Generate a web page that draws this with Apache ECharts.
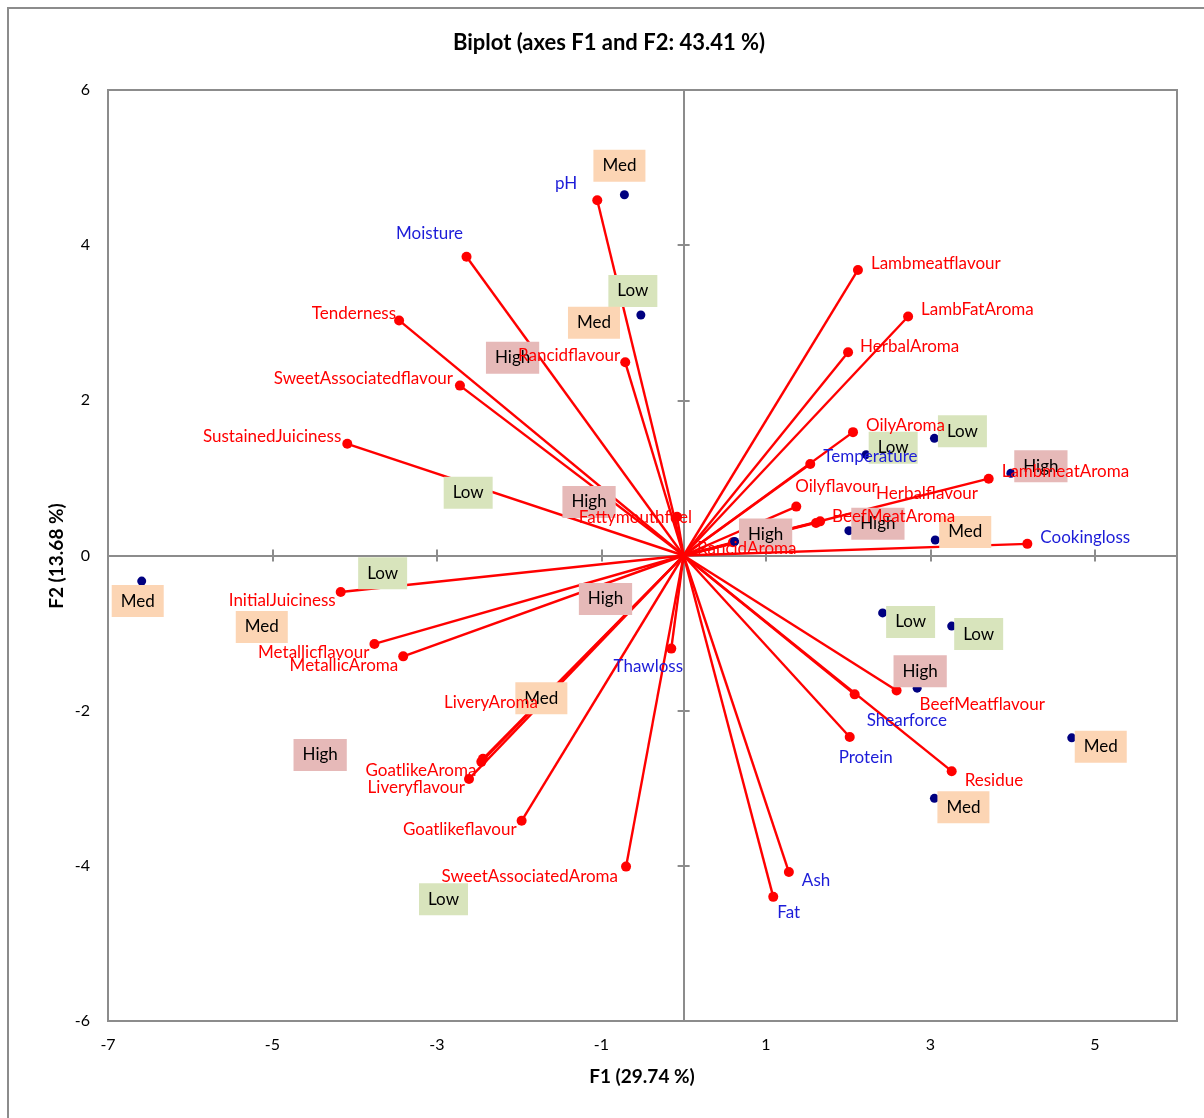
<!DOCTYPE html>
<html>
<head>
<meta charset="utf-8">
<title>Biplot (axes F1 and F2: 43.41 %)</title>
<script src="https://cdn.jsdelivr.net/npm/echarts@6/dist/echarts.min.js"></script>
<style>
  html, body { margin: 0; padding: 0; background: #ffffff; }
  #chart { width: 1204px; height: 1118px; }
</style>
</head>
<body>
<div id="chart"></div>
<script>
// ---- Variables: coordinates on F1 / F2 ----
const varNames = [
  'pH', 'Moisture', 'Tenderness', 'SweetAssociatedflavour', 'SustainedJuiciness',
  'Rancidflavour', 'Fattymouthfeel', 'Lambmeatflavour', 'LambFatAroma', 'HerbalAroma',
  'OilyAroma', 'Temperature', 'Oilyflavour', 'Herbalflavour', 'BeefMeatAroma',
  'LambmeatAroma', 'Cookingloss', 'RancidAroma', 'InitialJuiciness', 'Metallicflavour',
  'MetallicAroma', 'Thawloss', 'LiveryAroma', 'GoatlikeAroma', 'Liveryflavour',
  'Goatlikeflavour', 'SweetAssociatedAroma', 'Ash', 'Fat', 'Protein',
  'Shearforce', 'BeefMeatflavour', 'Residue'
];
const varF1 = [
  -1.05, -2.64, -3.46, -2.72, -4.09,
  -0.71, -0.08, 2.12, 2.73, 2.00,
  2.06, 1.54, 1.37, 1.61, 1.66,
  3.71, 4.18, 0.60, -4.17, -3.76,
  -3.41, -0.15, -2.44, -2.46, -2.61,
  -1.97, -0.70, 1.28, 1.09, 2.02,
  2.08, 2.59, 3.26
];
const varF2 = [
  4.58, 3.85, 3.03, 2.19, 1.44,
  2.49, 0.50, 3.68, 3.08, 2.62,
  1.59, 1.18, 0.63, 0.42, 0.44,
  0.99, 0.15, 0.17, -0.47, -1.14,
  -1.30, -1.20, -2.62, -2.66, -2.88,
  -3.42, -4.01, -4.08, -4.40, -2.34,
  -1.79, -1.74, -2.78
];
// Physico-chemical measurements (labelled in blue)
const supplementaryVars = ['pH', 'Moisture', 'Temperature', 'Cookingloss', 'Thawloss',
  'Shearforce', 'Protein', 'Ash', 'Fat'];

// ---- Observations: scores on F1 / F2 and level ----
const obsLevel = [
  'Med', 'Low', 'Med', 'Low', 'Low', 'High', 'High', 'Med',
  'High', 'Low', 'Low', 'High', 'Med', 'Med', 'Med', 'High',
  'Low', 'High', 'Low', 'High', 'Med', 'Med', 'High', 'Low'
];
const obsF1 = [
  -0.72, -0.52, -6.59, 2.22, 3.05, 3.98, 2.01, 3.06,
  0.62, 2.42, 3.26, 2.84, 4.72, 3.05, -1.09, -2.08,
  -2.62, -1.15, -3.66, -0.95, -5.13, -1.73, -4.42, -2.92
];
const obsF2 = [
  4.65, 3.10, -0.33, 1.30, 1.51, 1.06, 0.32, 0.20,
  0.18, -0.74, -0.91, -1.71, -2.35, -3.13, 3.00, 2.55,
  0.81, 0.69, -0.23, -0.56, -0.92, -1.84, -2.57, -4.43
];

// ---- Axis ticks ----
const xTickLabels = [-7, -5, -3, -1, 1, 3, 5];
const yTickLabels = [-6, -4, -2, 0, 2, 4, 6];
const xZeroTicks = [-5, -3, -1, 1, 3, 5];
const yZeroTicks = [-4, -2, 2, 4];

// ---- Label layout (alignment and pixel offset from the point) ----
const varLabelLayout = {
  pH: ['right', -20, -17], Moisture: ['center', -37, -23], Tenderness: ['right', -3, -7],
  SweetAssociatedflavour: ['right', -7, -7], SustainedJuiciness: ['right', -6, -7],
  Rancidflavour: ['right', -5, -7], Fattymouthfeel: ['right', 15, 1],
  Lambmeatflavour: ['left', 13, -6], LambFatAroma: ['left', 13, -7], HerbalAroma: ['left', 12, -6],
  OilyAroma: ['left', 13, -7], Temperature: ['left', 13, -7], Oilyflavour: ['left', -1, -20],
  Herbalflavour: ['left', 60, -29], BeefMeatAroma: ['left', 12, -5], LambmeatAroma: ['left', 13, -7],
  Cookingloss: ['left', 13, -6], RancidAroma: ['left', -36, 6], InitialJuiciness: ['right', -5, 9],
  Metallicflavour: ['right', -5, 9], MetallicAroma: ['right', -5, 9], Thawloss: ['center', -23, 18],
  LiveryAroma: ['center', 8, -56], GoatlikeAroma: ['right', -5, 9], Liveryflavour: ['right', -4, 9],
  Goatlikeflavour: ['right', -5, 9], SweetAssociatedAroma: ['right', -8, 10], Ash: ['left', 13, 8],
  Fat: ['left', 4, 16], Protein: ['center', 16, 20], Shearforce: ['left', 12, 26],
  BeefMeatflavour: ['left', 23, 14], Residue: ['left', 13, 9]
};
const obsLabelOffset = [
  [-5, -29], [-8, -24], [-4, 20], [27, -7], [28, -7], [30, -7], [29, -7], [30, -8],
  [31, -7], [28, 9], [27, 8], [3, -17], [29, 9], [29, 9], [0, 0], [0, 0],
  [0, 0], [0, 0], [0, 0], [0, 0], [0, 0], [0, 0], [0, 0], [0, 0]
];

const FONT = 'Lato, "Open Sans", sans-serif';
const RED = '#ff0000';
const BLUE = '#1c1cd8';
const NAVY = '#000080';
const GREY = '#8c8c8c';
const levelColor = { Low: '#d8e4bc', Med: '#fcd5b4', High: '#e6b9b8' };

const vectorData = varNames.map((n, i) => ({ coords: [[0, 0], [varF1[i], varF2[i]]] }));
const varPointData = varNames.map((n, i) => [varF1[i], varF2[i]]);
const varLabelData = varNames.map((n, i) => {
  const lay = varLabelLayout[n];
  return {
    name: n,
    value: [varF1[i], varF2[i]],
    label: {
      align: lay[0],
      offset: [lay[1], lay[2]],
      color: supplementaryVars.includes(n) ? BLUE : RED
    }
  };
});
const obsPointData = obsF1.map((x, i) => [x, obsF2[i]]);
const obsLabelData = obsF1.map((x, i) => ({
  name: obsLevel[i],
  value: [x, obsF2[i]],
  label: { backgroundColor: levelColor[obsLevel[i]], offset: obsLabelOffset[i] }
}));

const zeroLine = { color: GREY, width: 2 };
function zeroXAxis(inside) {
  return {
    type: 'value', min: -7, max: 6, position: 'bottom',
    axisLine: { show: true, onZero: true, onZeroAxisIndex: 0, lineStyle: zeroLine },
    axisTick: { show: true, customValues: xZeroTicks, inside: inside, length: 6, lineStyle: zeroLine },
    axisLabel: { show: false }, splitLine: { show: false }
  };
}
function zeroYAxis(inside) {
  return {
    type: 'value', min: -6, max: 6, position: 'left',
    axisLine: { show: true, onZero: true, onZeroAxisIndex: 0, lineStyle: zeroLine },
    axisTick: { show: true, customValues: yZeroTicks, inside: inside, length: 6, lineStyle: zeroLine },
    axisLabel: { show: false }, splitLine: { show: false }
  };
}

const chart = echarts.init(document.getElementById('chart'), null, { renderer: 'canvas' });
chart.setOption({
  animation: false,
  backgroundColor: '#ffffff',
  textStyle: { fontFamily: FONT },
  grid: {
    left: 108, top: 90, width: 1069, height: 931,
    show: true, borderColor: GREY, borderWidth: 2, backgroundColor: 'transparent'
  },
  xAxis: [
    {
      type: 'value', min: -7, max: 6, position: 'bottom',
      axisLine: { show: false, onZero: false },
      axisTick: { show: false },
      splitLine: { show: false },
      axisLabel: { customValues: xTickLabels, margin: 16, color: '#000', fontSize: 16, fontFamily: FONT }
    },
    zeroXAxis(false),
    zeroXAxis(true)
  ],
  yAxis: [
    {
      type: 'value', min: -6, max: 6, position: 'left',
      axisLine: { show: false, onZero: false },
      axisTick: { show: false },
      splitLine: { show: false },
      axisLabel: { customValues: yTickLabels, margin: 18, color: '#000', fontSize: 16, fontFamily: FONT }
    },
    zeroYAxis(false),
    zeroYAxis(true)
  ],
  graphic: [
    {
      type: 'rect', silent: true, z: -10,
      shape: { x: 8, y: 8, width: 1400, height: 1400 },
      style: { fill: 'none', stroke: GREY, lineWidth: 2 }
    },
    {
      type: 'text', x: 609, y: 43, silent: true,
      style: { text: 'Biplot (axes F1 and F2: 43.41 %)', font: 'bold 22px ' + FONT, fill: '#000', align: 'center', verticalAlign: 'middle' }
    },
    {
      type: 'text', x: 642, y: 1077, silent: true,
      style: { text: 'F1 (29.74 %)', font: 'bold 19px ' + FONT, fill: '#000', align: 'center', verticalAlign: 'middle' }
    },
    {
      type: 'text', x: 57, y: 556, rotation: Math.PI / 2, silent: true,
      style: { text: 'F2 (13.68 %)', font: 'bold 19px ' + FONT, fill: '#000', align: 'center', verticalAlign: 'middle' }
    }
  ],
  series: [
    {
      name: 'vectors', type: 'lines', coordinateSystem: 'cartesian2d', z: 1,
      xAxisIndex: 0, yAxisIndex: 0,
      lineStyle: { color: RED, width: 2.4, opacity: 1 },
      data: vectorData, silent: true
    },
    {
      name: 'variables', type: 'scatter', z: 2, xAxisIndex: 0, yAxisIndex: 0,
      symbol: 'circle', symbolSize: 10, itemStyle: { color: RED, opacity: 1 },
      data: varPointData, silent: true
    },
    {
      name: 'observations', type: 'scatter', z: 3, xAxisIndex: 0, yAxisIndex: 0,
      symbol: 'circle', symbolSize: 9, itemStyle: { color: NAVY, opacity: 1 },
      data: obsPointData, silent: true
    },
    {
      name: 'observation labels', type: 'scatter', z: 4, xAxisIndex: 0, yAxisIndex: 0,
      symbol: 'circle', symbolSize: 1, itemStyle: { color: 'rgba(0,0,0,0)', opacity: 1 },
      label: {
        show: true, position: 'inside', formatter: '{b}', opacity: 1,
        color: '#000', fontSize: 17, fontFamily: FONT, lineHeight: 20,
        padding: [6, 9, 6, 9], align: 'center', verticalAlign: 'middle'
      },
      data: obsLabelData, silent: true
    },
    {
      name: 'variable labels', type: 'scatter', z: 5, xAxisIndex: 0, yAxisIndex: 0,
      symbol: 'circle', symbolSize: 1, itemStyle: { color: 'rgba(0,0,0,0)', opacity: 1 },
      label: {
        show: true, position: 'inside', formatter: '{b}', opacity: 1,
        fontSize: 17, fontFamily: FONT, verticalAlign: 'middle'
      },
      data: varLabelData, silent: true
    }
  ]
});
</script>
</body>
</html>
